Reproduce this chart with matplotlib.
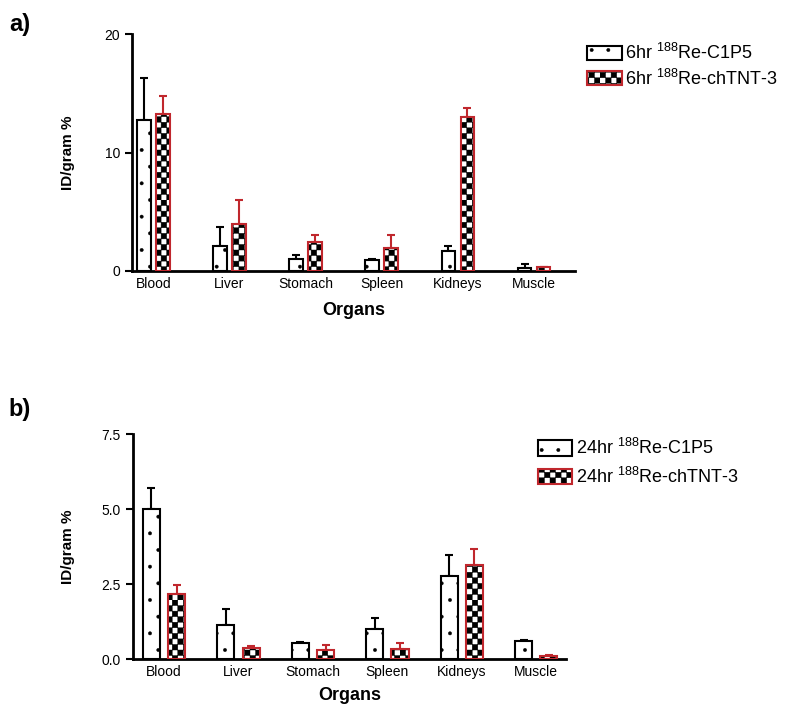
import numpy as np
import matplotlib
matplotlib.use("Agg")
import matplotlib.pyplot as plt
import matplotlib.hatch as mhatch
from matplotlib.path import Path
from matplotlib.patches import Patch

organs = ["Blood", "Liver", "Stomach", "Spleen", "Kidneys", "Muscle"]

# panel a) 6 hr
c1p5_6h = [12.8, 2.1, 1.0, 0.95, 1.7, 0.25]
c1p5_6h_err = [3.5, 1.6, 0.35, 0.1, 0.4, 0.3]
chtnt_6h = [13.3, 4.0, 2.45, 1.95, 13.0, 0.3]
chtnt_6h_err = [1.5, 2.0, 0.55, 1.05, 0.8, 0.05]

# panel b) 24 hr
c1p5_24h = [5.0, 1.13, 0.53, 1.0, 2.77, 0.6]
c1p5_24h_err = [0.7, 0.54, 0.05, 0.37, 0.7, 0.03]
chtnt_24h = [2.17, 0.37, 0.3, 0.35, 3.13, 0.1]
chtnt_24h_err = [0.3, 0.05, 0.17, 0.18, 0.54, 0.02]

RED = "#C0272D"


class Checker(mhatch.HatchPatternBase):
    # filled checkerboard squares, used for hatch '*'
    def __init__(self, hatch, density):
        self.n = hatch.count('*') * density * 3
        self.num_vertices = 5 * (self.n * self.n // 2)

    def set_vertices_and_codes(self, vertices, codes):
        s = 1.0 / self.n
        sq = np.array([[0, 0], [1, 0], [1, 1], [0, 1], [0, 0]], float)
        k = 0
        for i in range(self.n):
            for j in range(self.n):
                if (i + j) % 2 == 0:
                    vertices[k:k + 5] = (sq + [i, j]) * s
                    codes[k:k + 5] = [Path.MOVETO, Path.LINETO, Path.LINETO,
                                      Path.LINETO, Path.CLOSEPOLY]
                    k += 5


mhatch._hatch_types = [Checker if t is mhatch.Stars else t for t in mhatch._hatch_types]

plt.rcParams['font.family'] = ['Liberation Sans', 'DejaVu Sans']
plt.rcParams['hatch.linewidth'] = 0.3


def panel(ax, v1, e1, v2, e2, width, off, xlim, ylim, yticks, yfmt, label_prefix):
    x = np.arange(len(organs))
    ax.bar(x - off, v1, width, facecolor="white", edgecolor="black", linewidth=1.5,
           hatch='.', zorder=2)
    ax.bar(x + off, v2, width, facecolor="white", edgecolor="black", linewidth=0,
           hatch='*', zorder=2)
    ax.bar(x + off, v2, width, facecolor="none", edgecolor=RED, linewidth=1.5, zorder=3)
    ax.errorbar(x - off, v1, yerr=[np.zeros(len(v1)), e1], fmt='none', ecolor="black",
                elinewidth=1.5, capsize=3, capthick=1.5, zorder=1)
    ax.errorbar(x + off, v2, yerr=[np.zeros(len(v2)), e2], fmt='none', ecolor=RED,
                elinewidth=1.5, capsize=3, capthick=1.5, zorder=1)
    ax.set_xlim(*xlim)
    ax.set_ylim(*ylim)
    ax.set_yticks(yticks)
    ax.set_yticklabels([yfmt.format(t) for t in yticks], fontsize=10)
    ax.set_xticks(x)
    ax.set_xticklabels(organs, fontsize=10)
    ax.tick_params(axis='x', length=0, pad=4)
    ax.tick_params(axis='y', length=5, width=1.5)
    for s in ["top", "right"]:
        ax.spines[s].set_visible(False)
    for s in ["left", "bottom"]:
        ax.spines[s].set_linewidth(2)
    ax.set_xlabel("Organs", fontsize=13, fontweight="bold")
    ax.set_ylabel("ID/gram %", fontsize=11, fontweight="bold")
    h1 = Patch(facecolor="white", edgecolor="black", linewidth=1.5, hatch='.')
    h2a = Patch(facecolor="white", edgecolor="black", linewidth=0, hatch='*')
    h2b = Patch(facecolor="none", edgecolor=RED, linewidth=1.5)
    labels = [label_prefix + r" $^{\mathregular{188}}$Re-C1P5",
              label_prefix + r" $^{\mathregular{188}}$Re-chTNT-3"]
    return [h1, (h2a, h2b)], labels


fig = plt.figure(figsize=(8, 7.15), dpi=100)

ax1 = fig.add_axes([0.165, 0.621, 0.554, 0.331])
handles, labels = panel(ax1, c1p5_6h, c1p5_6h_err, chtnt_6h, chtnt_6h_err,
                        0.18, 0.125, (-0.28, 5.54), (0, 20), [0, 10, 20], "{:g}", "6hr")
ax1.xaxis.set_label_coords(0.5, -0.13)
ax1.yaxis.set_label_coords(-0.129, 0.5)
fig.legend(handles, labels, loc="upper left", bbox_to_anchor=(0.734, 0.94),
           frameon=False, fontsize=13, handlelength=1.9, handleheight=0.85,
           handletextpad=0.2, labelspacing=0.3, borderaxespad=0, borderpad=0)

ax2 = fig.add_axes([0.166, 0.0783, 0.5415, 0.3147])
handles, labels = panel(ax2, c1p5_24h, c1p5_24h_err, chtnt_24h, chtnt_24h_err,
                        0.23, 0.17, (-0.42, 5.40), (0, 7.5), [0, 2.5, 5.0, 7.5], "{:.1f}", "24hr")
ax2.xaxis.set_label_coords(0.5, -0.125)
ax2.yaxis.set_label_coords(-0.134, 0.5)
fig.legend(handles, labels, loc="upper left", bbox_to_anchor=(0.6725, 0.387),
           frameon=False, fontsize=13, handlelength=1.9, handleheight=0.95,
           handletextpad=0.2, labelspacing=0.45, borderaxespad=0, borderpad=0)

fig.text(0.025, 0.966, "a)", fontsize=17, fontweight="bold", ha="center", va="center")
fig.text(0.025, 0.427, "b)", fontsize=17, fontweight="bold", ha="center", va="center")

fig.savefig("out.png", dpi=100)
